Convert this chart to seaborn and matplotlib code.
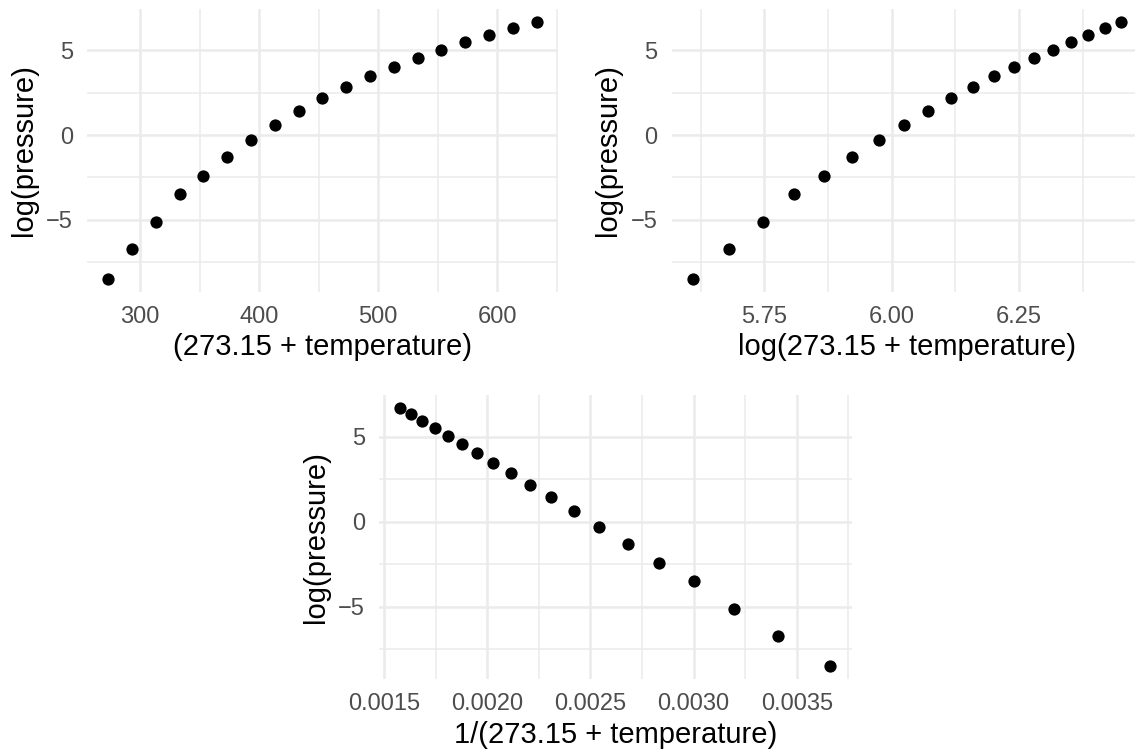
import numpy as np
import matplotlib
matplotlib.use("Agg")
import matplotlib.pyplot as plt
import seaborn as sns

# vapour pressure of mercury (R "pressure" data)
temperature = [0, 20, 40, 60, 80, 100, 120, 140, 160, 180,
               200, 220, 240, 260, 280, 300, 320, 340, 360]
pressure = [0.0002, 0.0012, 0.0060, 0.0300, 0.0900, 0.2700, 0.7500, 1.8500,
            4.2000, 8.8000, 17.3000, 32.1000, 57.0000, 96.0000, 157.0000,
            247.0000, 376.0000, 558.0000, 806.0000]

xticks_kelvin = [300, 400, 500, 600]
xticks_logk = [5.75, 6.00, 6.25]
xticks_inv = [0.0015, 0.0020, 0.0025, 0.0030, 0.0035]
yticks = [-5, 0, 5]

sns.set_theme(style="white")
plt.rcParams["font.family"] = ["Liberation Sans", "DejaVu Sans"]

kelvin = 273.15 + np.array(temperature)
logp = np.log(np.array(pressure))

W, H = 1135, 751
fig = plt.figure(figsize=(W / 100, H / 100), dpi=100)


def panel(px_left, px_top, px_w, px_h, x, xlabel, xticks, xfmt):
    ax = fig.add_axes([px_left / W, (H - px_top - px_h) / H, px_w / W, px_h / H])
    sns.scatterplot(x=x, y=logp, ax=ax, color="black", s=78, linewidth=0)

    xr = x.max() - x.min()
    yr = logp.max() - logp.min()

    step = xticks[1] - xticks[0]
    minor_x = [t + step / 2 for t in [xticks[0] - step] + list(xticks)]
    ax.set_xticks(xticks)
    ax.set_xticklabels([xfmt.format(t) for t in xticks])
    ax.set_xticks(minor_x, minor=True)
    ax.set_yticks(yticks)
    ax.set_yticklabels([str(t).replace("-", "\u2212") for t in yticks])
    ax.set_yticks([-7.5, -2.5, 2.5], minor=True)
    ax.set_xlim(x.min() - 0.05 * xr, x.max() + 0.05 * xr)
    ax.set_ylim(logp.min() - 0.05 * yr, logp.max() + 0.05 * yr)

    ax.grid(which="major", color="#EBEBEB", linewidth=1.8)
    ax.grid(which="minor", color="#EBEBEB", linewidth=1.1)
    ax.set_axisbelow(True)
    for s in ax.spines.values():
        s.set_visible(False)
    ax.tick_params(which="both", length=0)
    ax.tick_params(axis="both", pad=10, labelsize=17, labelcolor="#4D4D4D")
    ax.set_xlabel(xlabel, fontsize=21, color="black", labelpad=4)
    ax.set_ylabel("log(pressure)", fontsize=21, color="black", labelpad=6)
    return ax


panel(86.7, 9, 471.3, 283, kelvin, "(273.15 + temperature)",
      xticks_kelvin, "{:.0f}")
panel(671.5, 9, 471.3, 283, np.log(kelvin), "log(273.15 + temperature)",
      xticks_logk, "{:.2f}")
panel(379, 395, 472.5, 284.3, 1 / kelvin, "1/(273.15 + temperature)",
      xticks_inv, "{:.4f}")

fig.savefig("out.png", dpi=100, facecolor="white")
